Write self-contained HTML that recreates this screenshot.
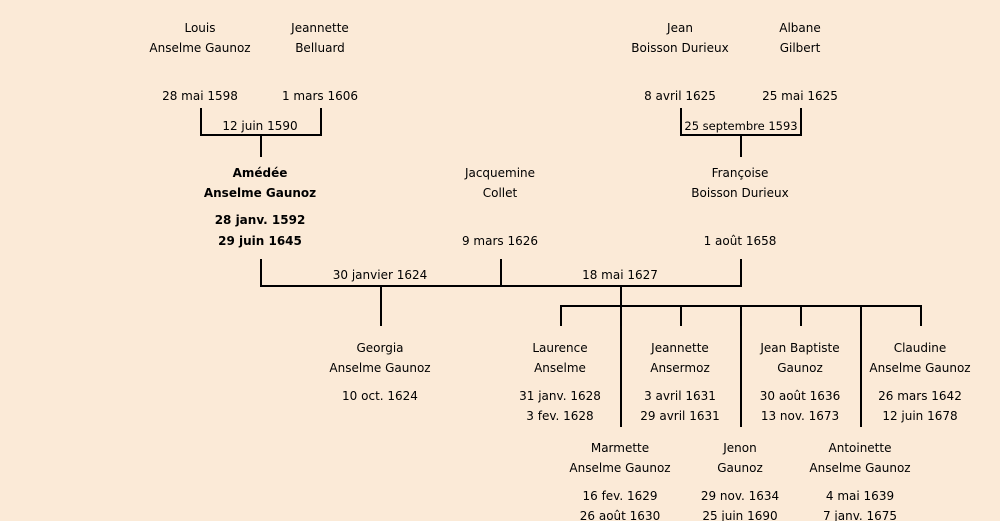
<!DOCTYPE html>
<html><head><meta charset="utf-8"><style>
html,body{margin:0;padding:0;background:#fbead7;}
svg{display:block}
text{font-family:"DejaVu Sans","Liberation Sans",sans-serif;font-size:12px;fill:#000;text-anchor:middle;}
.b{font-weight:bold}
</style></head><body>
<svg width="1000" height="521" viewBox="0 0 1000 521">
<rect width="1000" height="521" fill="#fbead7"/>
<g stroke="#000" stroke-width="2" fill="none">
<path d="M201 108V135H321V108M261 135V157"/>
<path d="M681 108V135H801V108M741 135V157"/>
<path d="M261 259V286H741V259M501 259V286M381 286V326M621 286V306M561 326V306H921V326M681 306V326M801 306V326M621 306V427M741 306V427M861 306V427"/>
</g>
<g>
<text x="200" y="32">Louis</text><text x="200" y="52">Anselme Gaunoz</text><text x="200" y="100">28 mai 1598</text>
<text x="320" y="32">Jeannette</text><text x="320" y="52">Belluard</text><text x="320" y="100">1 mars 1606</text>
<text x="260" y="130">12 juin 1590</text>
<text x="680" y="32">Jean</text><text x="680" y="52">Boisson Durieux</text><text x="680" y="100">8 avril 1625</text>
<text x="800" y="32">Albane</text><text x="800" y="52">Gilbert</text><text x="800" y="100">25 mai 1625</text>
<text x="741" y="130" style="font-size:11.5px">25 septembre 1593</text>
<text class="b" x="260" y="177">Amédée</text><text class="b" x="260" y="197">Anselme Gaunoz</text>
<text class="b" x="260" y="224">28 janv. 1592</text><text class="b" x="260" y="245">29 juin 1645</text>
<text x="500" y="177">Jacquemine</text><text x="500" y="197">Collet</text><text x="500" y="245">9 mars 1626</text>
<text x="740" y="177">Françoise</text><text x="740" y="197">Boisson Durieux</text><text x="740" y="245">1 août 1658</text>
<text x="380" y="279">30 janvier 1624</text>
<text x="620" y="279">18 mai 1627</text>
<text x="380" y="352">Georgia</text><text x="380" y="372">Anselme Gaunoz</text><text x="380" y="400">10 oct. 1624</text>
<text x="560" y="352">Laurence</text><text x="560" y="372">Anselme</text><text x="560" y="400">31 janv. 1628</text><text x="560" y="420">3 fev. 1628</text>
<text x="680" y="352">Jeannette</text><text x="680" y="372">Ansermoz</text><text x="680" y="400">3 avril 1631</text><text x="680" y="420">29 avril 1631</text>
<text x="800" y="352">Jean Baptiste</text><text x="800" y="372">Gaunoz</text><text x="800" y="400">30 août 1636</text><text x="800" y="420">13 nov. 1673</text>
<text x="920" y="352">Claudine</text><text x="920" y="372">Anselme Gaunoz</text><text x="920" y="400">26 mars 1642</text><text x="920" y="420">12 juin 1678</text>
<text x="620" y="452">Marmette</text><text x="620" y="472">Anselme Gaunoz</text><text x="620" y="500">16 fev. 1629</text><text x="620" y="520">26 août 1630</text>
<text x="740" y="452">Jenon</text><text x="740" y="472">Gaunoz</text><text x="740" y="500">29 nov. 1634</text><text x="740" y="520">25 juin 1690</text>
<text x="860" y="452">Antoinette</text><text x="860" y="472">Anselme Gaunoz</text><text x="860" y="500">4 mai 1639</text><text x="860" y="520">7 janv. 1675</text>
</g>
</svg>
</body></html>
